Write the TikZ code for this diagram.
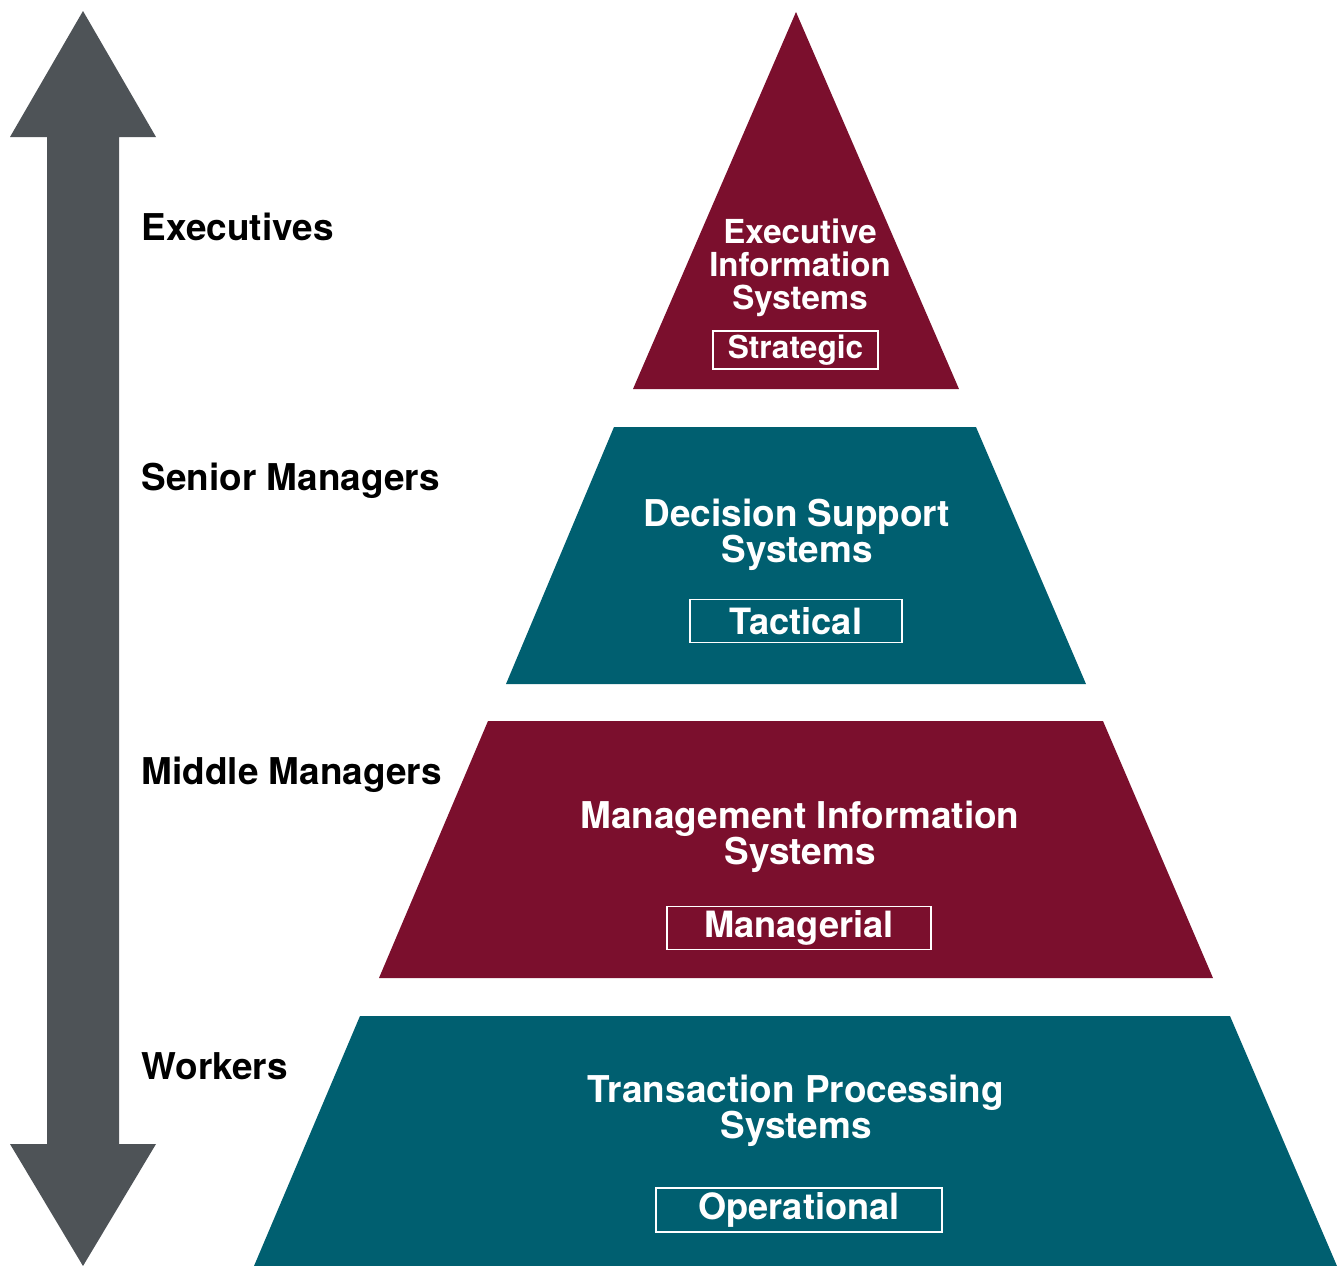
\documentclass[tikz,border=0pt]{standalone}
\usepackage{fontspec}
\setmainfont{TeX Gyre Heros}
\usetikzlibrary{positioning}
\definecolor{maroon}{HTML}{7B0F2D}
\definecolor{petrol}{HTML}{005F70}
\definecolor{slate}{HTML}{4E5357}
\tikzset{
  tiertext/.style={text=white, align=center, inner sep=0pt, font=\bfseries\fontsize{10.5}{10.3}\selectfont},
  toptext/.style={tiertext, font=\bfseries\fontsize{9.4}{9.4}\selectfont},
  levelbox/.style={draw=white, line width=0.5pt, text=white, inner sep=0pt, font=\bfseries\fontsize{10.3}{12}\selectfont},
  rolelabel/.style={anchor=base west, inner sep=0pt, font=\bfseries\fontsize{10.5}{12}\selectfont}
}
\begin{document}
\begin{tikzpicture}[x=0.01cm, y=-0.01cm]
\useasboundingbox (0,0) rectangle (1341,1266);
% double arrow on the left
\fill[slate] (83,11) -- (156,137) -- (119,137) -- (119,1144) -- (156,1144)
  -- (83,1266) -- (10,1144) -- (47,1144) -- (47,137) -- (10,137) -- cycle;
% pyramid tiers
\fill[maroon] (796,12) -- (959,389) -- (633,389) -- cycle;
\fill[petrol] (614,427) -- (976,427) -- (1086,684) -- (506,684) -- cycle;
\fill[maroon] (488,721) -- (1103,721) -- (1213,978) -- (379,978) -- cycle;
\fill[petrol] (360,1016) -- (1230,1016) -- (1337,1266) -- (254,1266) -- cycle;

% tier texts
\node[toptext] (eis) at (800,268) {Executive\\Information\\Systems};
\node[levelbox, minimum width=1.65cm, minimum height=0.38cm, font=\bfseries\fontsize{9}{11}\selectfont] (strat) at (795.5,350) {Strategic};
\node[tiertext] (dss) at (797,535) {Decision Support\\Systems};
\node[levelbox, minimum width=2.12cm, minimum height=0.43cm] (tact) at (796,621) {Tactical};
\node[tiertext] (mis) at (800,837) {Management Information\\Systems};
\node[levelbox, minimum width=2.64cm, minimum height=0.43cm] (mgr) at (799,928) {Managerial};
\node[tiertext] (tps) at (796,1111) {Transaction Processing\\Systems};
\node[levelbox, minimum width=2.86cm, minimum height=0.44cm] (oper) at (799,1210) {Operational};

% roles
\node[rolelabel] (exec) at (141,240) {Executives};
\node[rolelabel] (senior) at (141,490) {Senior Managers};
\node[rolelabel] (middle) at (141,784) {Middle Managers};
\node[rolelabel] (workers) at (141,1079) {Workers};
\end{tikzpicture}
\end{document}
